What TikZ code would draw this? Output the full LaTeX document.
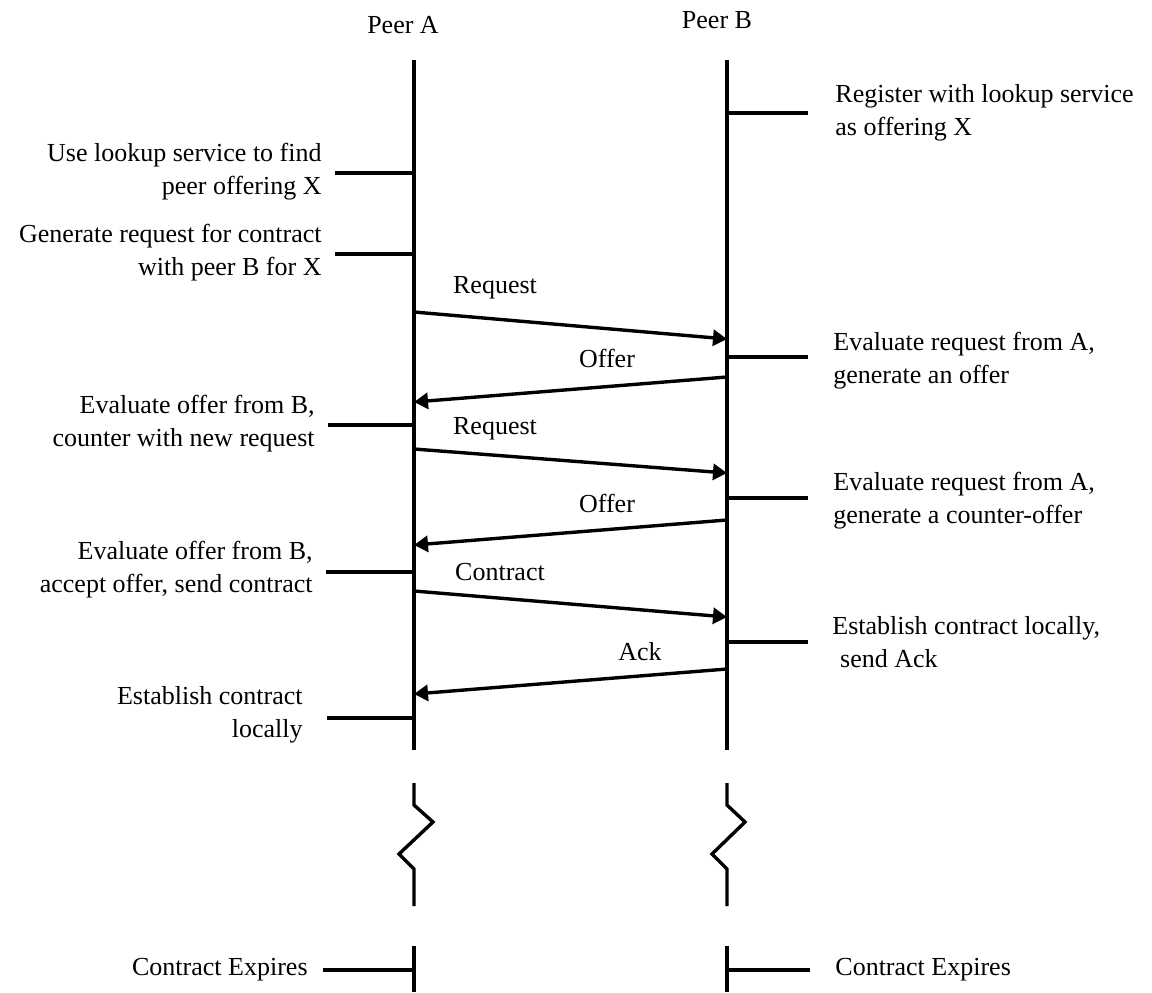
\documentclass[tikz,border=0pt]{standalone}
\usepackage{fontspec}
\setmainfont{Liberation Serif}
\usetikzlibrary{arrows.meta}

\tikzset{
  lifeline/.style={line width=1.7pt},
  tick/.style={line width=1.7pt},
  msg/.style={line width=1.7pt, -{Triangle[length=7pt,width=8pt]}},
  note/.style={inner sep=0pt, font=\fontsize{13}{16.5}\selectfont},
  leftnote/.style={note, anchor=east, align=right},
  rightnote/.style={note, anchor=west, align=left},
  msglabel/.style={inner sep=0pt, font=\fontsize{13}{16}\selectfont},
  peer/.style={inner sep=0pt, font=\fontsize{13}{16}\selectfont}
}

\begin{document}
\begin{tikzpicture}[x=0.5pt, y=-0.5pt]
  \useasboundingbox (0,0) rectangle (1152,992);

  % participants
  \node[peer] (peerA) at (403,25) {Peer A};
  \node[peer] (peerB) at (717,20) {Peer B};

  % lifeline A: main part, broken part, final stub
  \coordinate (aTop) at (414,60);
  \coordinate (aEnd) at (414,750);
  \draw[lifeline] (aTop) -- (aEnd);
  \coordinate (aBrk) at (414,783);
  \coordinate (aBrkEnd) at (414,906);
  \draw[lifeline, line join=miter] (aBrk) -- (414,805) -- (433,822) -- (399,854) -- (414,869) -- (aBrkEnd);
  \coordinate (aStub) at (414,946);
  \coordinate (aBot) at (414,992);
  \draw[lifeline] (aStub) -- (aBot);

  % lifeline B
  \coordinate (bTop) at (727,60);
  \coordinate (bEnd) at (727,750);
  \draw[lifeline] (bTop) -- (bEnd);
  \coordinate (bBrk) at (727,783);
  \coordinate (bBrkEnd) at (727,906);
  \draw[lifeline, line join=miter] (bBrk) -- (727,805) -- (745,822) -- (712,854) -- (727,869) -- (bBrkEnd);
  \coordinate (bStub) at (727,946);
  \coordinate (bBot) at (727,992);
  \draw[lifeline] (bStub) -- (bBot);

  % notes beside Peer A
  \node[leftnote] (na1) at (322,172) {Use lookup service to find\\peer offering X};
  \coordinate (ta1) at (335,173);
  \draw[tick] (ta1) -- (414,173);

  \node[leftnote] (na2) at (322,253) {Generate request for contract\\with peer B for X};
  \coordinate (ta2) at (335,254);
  \draw[tick] (ta2) -- (414,254);

  \node[leftnote] (na3) at (315,424) {Evaluate offer from B,\\counter with new request};
  \coordinate (ta3) at (328,425);
  \draw[tick] (ta3) -- (414,425);

  \node[leftnote] (na4) at (313,570) {Evaluate offer from B,\\accept offer, send contract};
  \coordinate (ta4) at (326,572);
  \draw[tick] (ta4) -- (414,572);

  \node[leftnote] (na5) at (303,715) {Establish contract\\locally};
  \coordinate (ta5) at (327,718);
  \draw[tick] (ta5) -- (414,718);

  \node[leftnote] (na6) at (308,970) {Contract Expires};
  \coordinate (ta6) at (323,970);
  \draw[tick] (ta6) -- (414,970);

  % notes beside Peer B
  \node[rightnote] (nb1) at (835,113) {Register with lookup service\\as offering X};
  \coordinate (tb1) at (808,113);
  \draw[tick] (727,113) -- (tb1);

  \node[rightnote] (nb2) at (833,361) {Evaluate request from A,\\generate an offer};
  \coordinate (tb2) at (808,357);
  \draw[tick] (727,357) -- (tb2);

  \node[rightnote] (nb3) at (833,501) {Evaluate request from A,\\generate a counter-offer};
  \coordinate (tb3) at (808,498);
  \draw[tick] (727,498) -- (tb3);

  \node[rightnote] (nb4) at (832,642) {Establish contract locally,\\\hspace{0.3em}send Ack};
  \coordinate (tb4) at (808,642);
  \draw[tick] (727,642) -- (tb4);

  \node[rightnote] (nb5) at (835,970) {Contract Expires};
  \coordinate (tb5) at (810,970);
  \draw[tick] (727,970) -- (tb5);

  % message end points on the lifelines
  \coordinate (m1s) at (414,312); \coordinate (m1e) at (727,339);
  \coordinate (m2s) at (727,377); \coordinate (m2e) at (414,402);
  \coordinate (m3s) at (414,449); \coordinate (m3e) at (727,473);
  \coordinate (m4s) at (727,520); \coordinate (m4e) at (414,545);
  \coordinate (m5s) at (414,591); \coordinate (m5e) at (727,617);
  \coordinate (m6s) at (727,669); \coordinate (m6e) at (414,694);

  % messages
  \draw[msg] (m1s) -- (m1e);
  \node[msglabel] (l1) at (495,288) {Request};
  \draw[msg] (m2s) -- (m2e);
  \node[msglabel] (l2) at (607,358) {Offer};
  \draw[msg] (m3s) -- (m3e);
  \node[msglabel] (l3) at (495,429) {Request};
  \draw[msg] (m4s) -- (m4e);
  \node[msglabel] (l4) at (607,503) {Offer};
  \draw[msg] (m5s) -- (m5e);
  \node[msglabel] (l5) at (500,572) {Contract};
  \draw[msg] (m6s) -- (m6e);
  \node[msglabel] (l6) at (640,652) {Ack};
\end{tikzpicture}
\end{document}
